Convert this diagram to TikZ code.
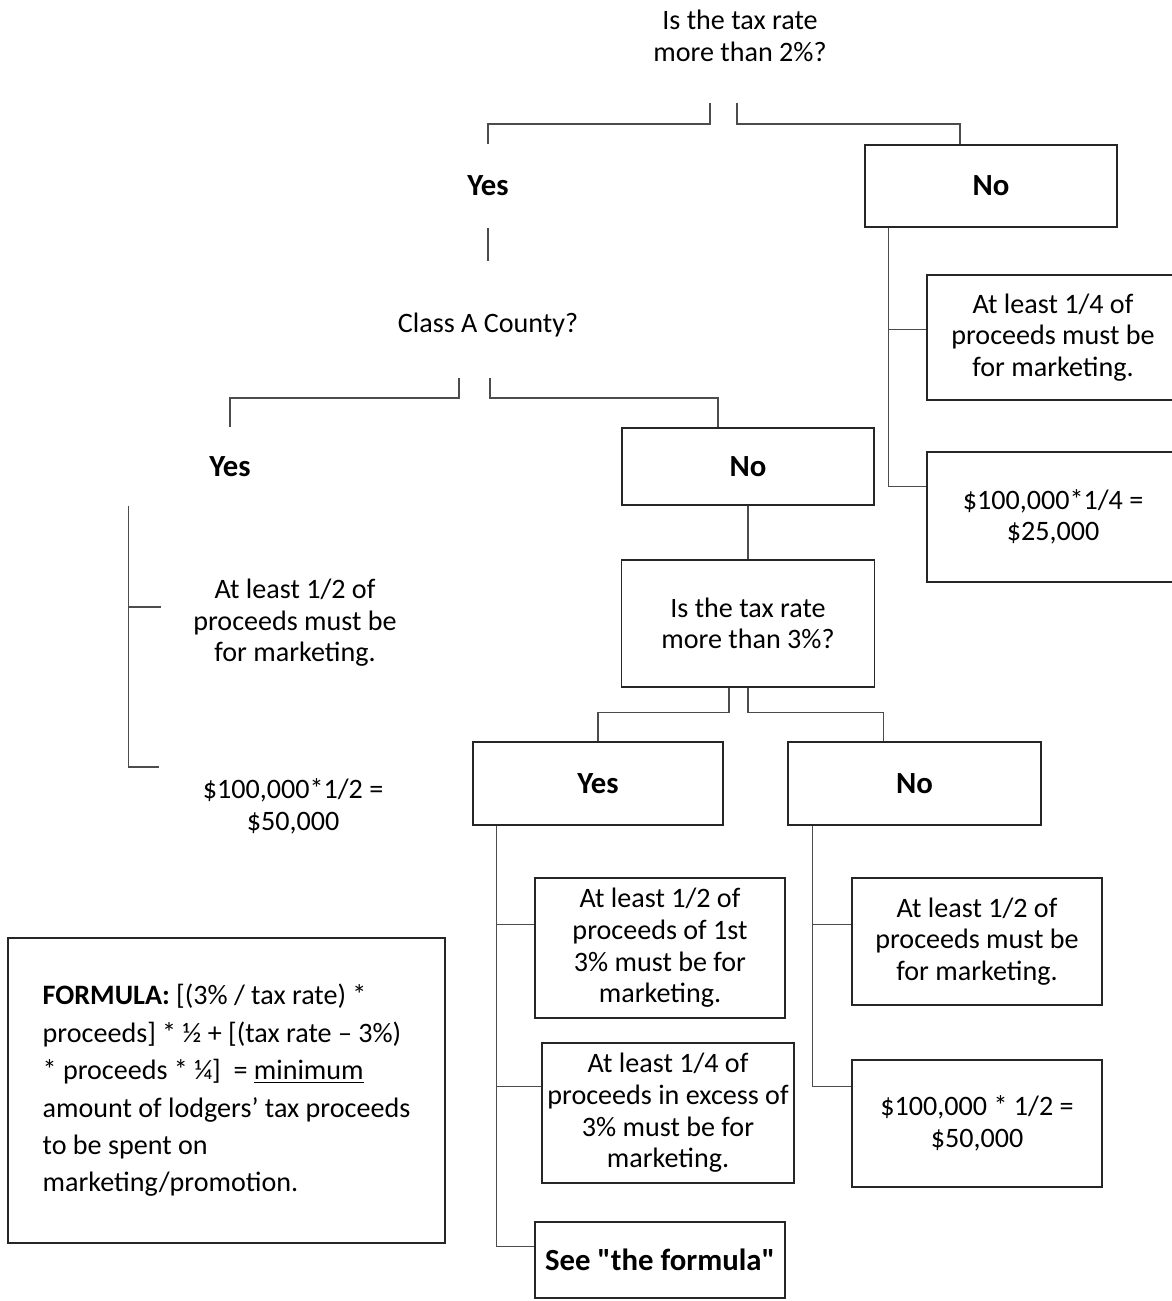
\documentclass[tikz,border=0pt]{standalone}
\usepackage{fontspec}
\setmainfont{Carlito}[Ligatures=TeXOff]
\usetikzlibrary{calc}
\tikzset{%
	box/.style    = {draw=black!85, line width=0.8pt, rectangle, align=center,
		inner sep=2pt, font=\fontsize{16}{18}\selectfont},
	nobox/.style  = {box, draw=none}, % no border
	answer/.style = {font=\fontsize{17.5}{19}\selectfont\bfseries}, % Yes / No
	link/.style   = {draw=black!70, line width=0.7pt} % Connector
}

\begin{document}
\begin{tikzpicture}[x=0.02cm, y=-0.02cm]
	\useasboundingbox (0,0) rectangle (1172,1301);

	% first question
	\node[nobox] (q1) at (740,36) {Is the tax rate\\more than 2\%?};
	\coordinate (q1l) at (710,103);
	\coordinate (q1r) at (737,103);
	\node[nobox, answer, minimum width=5.04cm, minimum height=1.64cm] (yes1) at (488,186) {Yes};
	\node[box, answer, minimum width=5.04cm, minimum height=1.64cm] (no1) at (991,186) {No};

	\draw[link] (q1l) -- ++(0,21) -| (yes1.north);
	\draw[link] (q1r) -- ++(0,21) -| ($(no1.north)+(-31,0)$);

	% not more than 2%
	\node[box, minimum width=5.04cm, minimum height=2.5cm] (r1) at (1053,337.5) {At least 1/4 of\\proceeds must be\\for marketing.};
	\node[box, minimum width=5.04cm, minimum height=2.6cm] (r2) at (1053,517) {\$100,000*1/4 =\\\$25,000};
	\coordinate (no1t) at ($(no1.south west)+(24,0)$);
	\draw[link] (no1t) |- ($(r1.north west)+(0,55)$);
	\draw[link] (no1t) |- ($(r2.north west)+(0,35)$);

	% class A county
	\node[nobox, minimum height=2.52cm] (q2) at (488,325) {Class A County?};
	\draw[link] (yes1.south) -- (q2.north);
	\coordinate (q2l) at (459,378);
	\coordinate (q2r) at (490,378);
	\node[nobox, answer, minimum width=5cm, minimum height=1.54cm] (yes2) at (230,466.5) {Yes};
	\node[box, answer, minimum width=5.04cm, minimum height=1.54cm] (no2) at (748,466.5) {No};
	\draw[link] (q2l) -- ++(0,20) -| (yes2.north);
	\draw[link] (q2r) -- ++(0,20) -| ($(no2.north)+(-30,0)$);

	\node[nobox, minimum width=5.32cm] (l1) at (295,623) {At least 1/2 of\\proceeds must be\\for marketing.};
	\node[nobox, minimum width=5.32cm] (l2) at (293,806) {\$100,000*1/2 =\\\$50,000};
	\coordinate (yes2t) at ($(yes2.south west)+(24,0)$);
	\draw[link] (yes2t) |- ($(l1.west)+(0,-16)$);
	\draw[link] (yes2t) |- ($(l2.west)+(0,-39)$);

	% second question
	\node[box, minimum width=5.06cm, minimum height=2.54cm] (q3) at (748,623.5) {Is the tax rate\\more than 3\%?};
	\draw[link] (no2.south) -- (q3.north);
	\coordinate (q3l) at ($(q3.south)+(-19,0)$);
	\coordinate (q3r) at (q3.south);
	\node[box, answer, minimum width=5cm, minimum height=1.66cm] (yes3) at (598,783.5) {Yes};
	\node[box, answer, minimum width=5.06cm, minimum height=1.66cm] (no3) at (914.5,783.5) {No};
	\draw[link] (q3l) -- ++(0,25) -| (yes3.north);
	\draw[link] (q3r) -- ++(0,25) -| ($(no3.north)+(-31,0)$);

	% more than 3%
	\node[box, minimum width=5cm, minimum height=2.8cm] (bA) at (660,948) {At least 1/2 of\\proceeds of 1st\\3\% must be for\\marketing.};
	\node[box, minimum width=5.04cm, minimum height=2.8cm] (bB) at (668,1113) {At least 1/4 of\\proceeds in excess of\\3\% must be for\\marketing.};
	\node[box, answer, minimum width=5cm, minimum height=1.52cm] (bC) at (660,1260) {See "the formula"};
	\coordinate (yes3t) at ($(yes3.south west)+(24,0)$);
	\draw[link] (yes3t) |- ($(bA.north west)+(0,47)$);
	\draw[link] (yes3t) |- ($(bB.north west)+(0,44)$);
	\draw[link] (yes3t) |- ($(bC.north west)+(0,25)$);

	% between 2% and 3%
	\node[box, minimum width=5cm, minimum height=2.54cm] (bD) at (977,941.5) {At least 1/2 of\\proceeds must be\\for marketing.};
	\node[box, minimum width=5cm, minimum height=2.54cm] (bE) at (977,1123.5) {\$100,000 * 1/2 =\\\$50,000};
	\coordinate (no3t) at ($(no3.south west)+(25,0)$);
	\draw[link] (no3t) |- ($(bD.north west)+(0,47)$);
	\draw[link] (no3t) |- ($(bE.north west)+(0,27)$);

	% formula
	\node[box, align=left, minimum width=8.74cm, minimum height=6.1cm,
		font=\fontsize{16}{21.3}\selectfont] (formula) at (226.5,1090.5)
		{\textbf{FORMULA:} [(3\% / tax rate) *\\
		proceeds] * ½ + [(tax rate – 3\%)\\
		* proceeds * ¼]~~= \underline{minimum}\\
		amount of lodgers’ tax proceeds\\
		to be spent on\\
		marketing/promotion.};
\end{tikzpicture}
\end{document}
